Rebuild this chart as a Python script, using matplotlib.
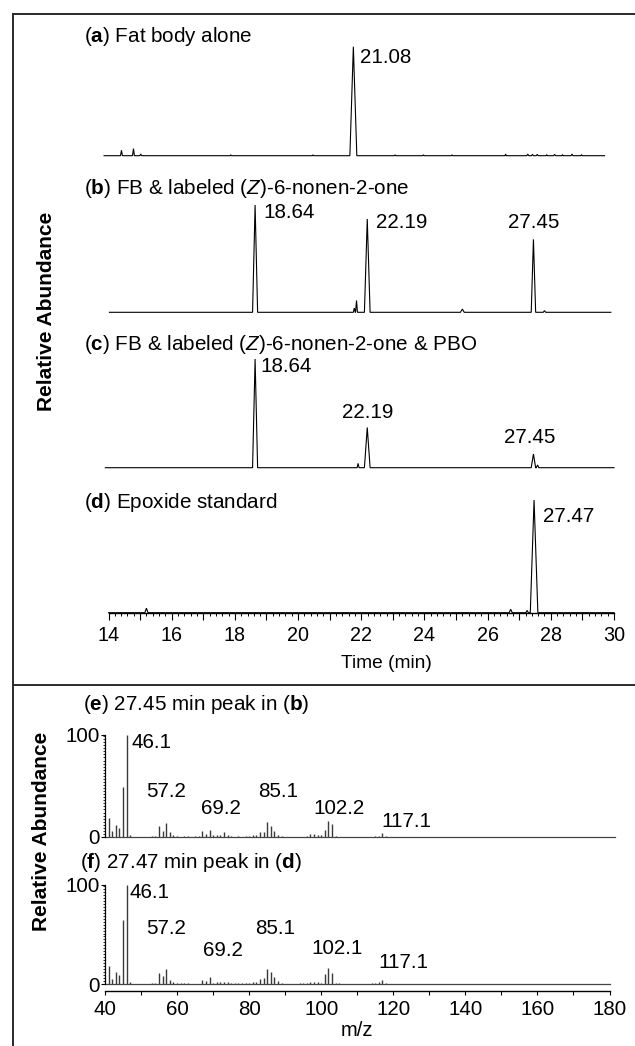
import matplotlib
matplotlib.use("Agg")
import matplotlib.pyplot as plt
from matplotlib.ticker import MultipleLocator, FuncFormatter, FixedLocator
from matplotlib.lines import Line2D

plt.rcParams['font.family'] = ['Liberation Sans', 'DejaVu Sans']
plt.rcParams['mathtext.fontset'] = 'custom'
plt.rcParams['mathtext.rm'] = 'Liberation Sans'
plt.rcParams['mathtext.bf'] = 'Liberation Sans:bold'
plt.rcParams['mathtext.it'] = 'Liberation Sans:italic'

# ---------------- data: chromatograms (retention time, min; relative abundance, %) ----------------
a_times = [13.74, 14.12, 14.35, 17.2, 19.8, 21.08, 22.4, 23.3, 24.2, 25.9, 26.6, 26.75, 26.9, 27.2, 27.45, 27.7, 28.0, 28.3]
a_heights = [5, 6.5, 1.5, 0.8, 0.8, 100, 0.8, 0.8, 0.8, 1.5, 1.5, 1.2, 1.2, 1.0, 1.2, 1.0, 1.5, 1.0]
a_widths = [0.03, 0.03, 0.03, 0.02, 0.02, 0.11, 0.02, 0.02, 0.02, 0.02, 0.03, 0.03, 0.03, 0.02, 0.03, 0.02, 0.03, 0.02]
a_range = [13.19, 29.03]
a_shift = 0.67  # trace (a) is drawn offset along the time axis in the original figure

b_times = [18.64, 21.78, 21.85, 22.19, 25.2, 27.45, 27.8]
b_heights = [100, 4, 11, 87, 3, 68, 1.5]
b_widths = [0.08, 0.03, 0.03, 0.09, 0.06, 0.07, 0.04]
b_range = [14.03, 29.9]

c_times = [18.64, 21.9, 22.19, 27.45, 27.58]
c_heights = [100, 4, 37, 12.6, 2.5]
c_widths = [0.08, 0.03, 0.09, 0.07, 0.04]
c_range = [13.9, 30.0]

d_times = [15.2, 26.73, 27.25, 27.47]
d_heights = [4, 3, 2, 100]
d_widths = [0.05, 0.05, 0.04, 0.12]
d_range = [14.0, 30.0]

time_ticks = [14, 16, 18, 20, 22, 24, 26, 28, 30]

# ---------------- data: mass spectra (m/z ; relative abundance, %) ----------------
e_mz = [41, 42, 43, 44, 45, 46, 47, 53, 54, 55, 56, 57, 58, 59, 60, 62, 63, 65, 66, 67, 68, 69, 70,
        71, 72, 73, 74, 75, 77, 79, 80, 81, 82, 83, 84, 85, 86, 87, 88, 89, 96, 97, 98, 99, 100,
        101, 102, 103, 104, 115, 116, 117, 118]
e_int = [18.6, 6.2, 12, 8.8, 49.5, 100, 1.6, 0.8, 0.8, 11, 6.2, 13.7, 4.6, 2.3, 0.8, 0.6, 0.6, 0.8, 1, 5.5, 2.5, 7.2, 2,
         2, 2, 4.9, 2, 0.8, 0.6, 1, 0.8, 1.5, 2, 4.9, 5, 14.3, 11, 6.2, 2, 0.8, 0.8, 3, 2.5, 2, 1.5,
         6.5, 15.6, 12.4, 0.8, 0.6, 1, 4.2, 0.8]
f_mz = [41, 42, 43, 44, 45, 46, 47, 53, 54, 55, 56, 57, 58, 59, 60, 61, 62, 63, 64, 67, 68, 69, 70,
        71, 72, 73, 74, 75, 76, 77, 78, 79, 80, 81, 82, 83, 84, 85, 86, 87, 88, 89, 94, 95, 96, 97,
        98, 99, 100, 101, 102, 103, 104, 105, 114, 115, 116, 117, 118]
f_int = [17.7, 5.4, 12, 9.4, 65, 100, 2.3, 0.8, 1, 11, 7.7, 15, 3.7, 2, 1, 0.6, 0.8, 0.8, 0.5, 4.4, 3.5, 6.7, 1.5,
         2, 2.5, 2.5, 2, 1, 0.6, 0.6, 0.8, 1, 1.5, 2, 2.5, 5.5, 6, 15, 12.5, 7, 3, 1, 0.8, 1, 1.5, 2.5,
         2, 2.5, 1.5, 10, 16, 10.8, 1.5, 0.6, 0.6, 1, 2.5, 4.5, 0.8]
e_labels = ["46.1", "57.2", "69.2", "85.1", "102.2", "117.1"]
f_labels = ["46.1", "57.2", "69.2", "85.1", "102.1", "117.1"]
mz_ticks = [40, 60, 80, 100, 120, 140, 160, 180]

chrom_titles = [r"($\mathbf{a}$) Fat body alone",
                r"($\mathbf{b}$) FB & labeled ($\mathit{Z}$)-6-nonen-2-one",
                r"($\mathbf{c}$) FB & labeled ($\mathit{Z}$)-6-nonen-2-one & PBO",
                r"($\mathbf{d}$) Epoxide standard"]
ms_titles = [r"($\mathbf{e}$) 27.45 min peak in ($\mathbf{b}$)",
             r"($\mathbf{f}$) 27.47 min peak in ($\mathbf{d}$)"]

# ---------------- figure / layout (pixel based) ----------------
W, H = 635, 1046
fig = plt.figure(figsize=(W / 100, H / 100), dpi=100)


def px_axes(x0, x1, ytop, ybot):
    return fig.add_axes([x0 / W, 1 - ybot / H, (x1 - x0) / W, (ybot - ytop) / H])


def ftext(x, y, s, **kw):
    return fig.text(x / W, 1 - y / H, s, **kw)


def peak_polyline(rng, times, heights, widths):
    xs, ys = [rng[0]], [0]
    for t, h, w in sorted(zip(times, heights, widths)):
        xs += [t - w, t, t + w]
        ys += [0, h, 0]
    xs.append(rng[1])
    ys.append(0)
    return xs, ys


LW = 0.8
FS_LAB = 14.9
FS_TICK = 14.2
FS_MSTICK = 14.8
CX0, CX1 = 108.5, 614

# chromatogram axes: (top px of 100 %, baseline px)
chrom_geom = [(46.7, 155.7), (205, 312.3), (359, 467.7), (500, 612.7)]
chrom_data = [(a_range, a_times, a_heights, a_widths),
              (b_range, b_times, b_heights, b_widths),
              (c_range, c_times, c_heights, c_widths),
              (d_range, d_times, d_heights, d_widths)]
chrom_axes = []
for i, ((yt, yb), (rng, ts, hs, ws)) in enumerate(zip(chrom_geom, chrom_data)):
    ax = px_axes(CX0, CX1, yt, yb)
    if i == 0:
        ax.set_xlim(14 - a_shift, 30 - a_shift)
    else:
        ax.set_xlim(14, 30)
    ax.set_ylim(0, 100)
    xs, ys = peak_polyline(rng, ts, hs, ws)
    ax.plot(xs, ys, color='black', lw=LW, clip_on=False, solid_joinstyle='miter')
    ax.patch.set_visible(False)
    chrom_axes.append(ax)

for ax in chrom_axes[:3]:
    ax.axis('off')

axd = chrom_axes[3]
for s in ['top', 'left', 'right']:
    axd.spines[s].set_visible(False)
axd.spines['bottom'].set_linewidth(1.0)
axd.set_yticks([])
axd.xaxis.set_major_locator(MultipleLocator(1))
axd.xaxis.set_minor_locator(MultipleLocator(0.2))
axd.xaxis.set_major_formatter(FuncFormatter(lambda v, p: f"{v:.0f}" if round(v) in time_ticks else ""))
axd.tick_params(axis='x', which='major', length=6.5 * 0.72, width=0.8, labelsize=FS_TICK, pad=5)
axd.tick_params(axis='x', which='minor', length=3.3 * 0.72, width=0.7)
axd.set_xlabel("Time (min)", fontsize=13.8)
axd.xaxis.set_label_coords((386 - CX0) / (CX1 - CX0), -(664 - 612.7) / (612.7 - 500))
axd.xaxis.label.set_va('center')

# chromatogram peak labels: (axis index, text, time, height, dx px, dy px (up +), ha)
chrom_peak_labels = [
    (0, "21.08", 21.08, 100, 7, -11, 'left'),
    (1, "18.64", 18.64, 100, 8, -7, 'left'),
    (1, "22.19", 22.19, 87, 9, -4, 'left'),
    (1, "27.45", 27.45, 68, 0, 17, 'center'),
    (2, "18.64", 18.64, 100, 5, -8, 'left'),
    (2, "22.19", 22.19, 37, 0, 15, 'center'),
    (2, "27.45", 27.45, 12.6, -4, 17, 'center'),
    (3, "27.47", 27.47, 100, 8.5, -16, 'left'),
]
for idx, s, t, h, dx, dy, ha in chrom_peak_labels:
    chrom_axes[idx].annotate(s, xy=(t, h), xytext=(dx, dy), textcoords='offset pixels',
                             ha=ha, va='center', fontsize=FS_LAB)

# panel titles
for s, y in zip(chrom_titles, [36, 189, 344, 502]):
    ftext(84, y, s, ha='left', va='center', fontsize=FS_LAB)

ftext(47, 311.5, "Relative Abundance", rotation=90, ha='center', va='center',
      fontsize=15, fontweight='bold')

# ---------------- mass spectra ----------------
MX0, MX1 = 105, 609.5
ms_geom = [(735, 837), (885, 984)]
ms_data = [(e_mz, e_int, e_labels, 181.5), (f_mz, f_int, f_labels, 180.2)]
# label placement: (m/z centre, % height) for labels 2..6; first label annotated next to base peak
ms_label_pos = [
    [(57.06, 44.4), (72.2, 28.1), (88.0, 44.4), (105.0, 28.1), (123.7, 15.5)],
    [(56.9, 56.3), (72.8, 34.3), (87.2, 56.3), (104.3, 36.0), (122.8, 21.5)],
]
ms_base_offset = [(5, -7), (3, -7)]
ms_axes = []
for k, ((yt, yb), (mz, inten, labs, xend)) in enumerate(zip(ms_geom, ms_data)):
    ax = px_axes(MX0, MX1, yt, yb)
    ax.set_xlim(40, 180)
    ax.set_ylim(0, 100)
    ax.patch.set_visible(False)
    ax.vlines(mz, 0, inten, colors='#3a3a3a', lw=1.0, clip_on=False)
    ax.plot([40, xend], [0, 0], color='#444444', lw=0.9, clip_on=False)
    for s in ['top', 'right', 'bottom']:
        ax.spines[s].set_visible(False)
    ax.spines['left'].set_linewidth(0.9)
    ax.yaxis.set_major_locator(FixedLocator([0, 100]))
    ax.yaxis.set_minor_locator(MultipleLocator(3))
    ax.tick_params(axis='y', which='major', length=3, width=0.8, labelsize=FS_MSTICK, pad=1)
    ax.tick_params(axis='y', which='minor', length=1.6, width=0.6)
    ax.set_xticks([])
    ax.annotate(labs[0], xy=(46, 100), xytext=ms_base_offset[k], textcoords='offset pixels',
                ha='left', va='center', fontsize=FS_LAB)
    for s, (xm, yp) in zip(labs[1:], ms_label_pos[k]):
        ax.text(xm, yp, s, ha='center', va='center', fontsize=FS_LAB)
    ms_axes.append(ax)

axf = ms_axes[1]
axf.spines['bottom'].set_visible(True)
axf.spines['bottom'].set_position(('outward', 5))
axf.spines['bottom'].set_linewidth(1.0)
axf.xaxis.set_major_locator(MultipleLocator(10))
axf.xaxis.set_major_formatter(FuncFormatter(lambda v, p: f"{v:.0f}" if round(v) in mz_ticks else ""))
axf.tick_params(axis='x', which='major', length=3, width=0.8, labelsize=FS_MSTICK, pad=3.5)
axf.set_xlabel("m/z", fontsize=14.5)
axf.xaxis.set_label_coords(0.5, -(1031 - 984) / (984 - 885))
axf.xaxis.label.set_va('center')

for s, (x, y) in zip(ms_titles, [(83, 705), (80, 863)]):
    ftext(x, y, s, ha='left', va='center', fontsize=FS_LAB)

ftext(42, 831, "Relative Abundance", rotation=90, ha='center', va='center',
      fontsize=15, fontweight='bold')

# ---------------- frame lines ----------------
frame_col = '#2a2a2a'
fig.add_artist(Line2D([13 / W, 1], [1 - 14 / H, 1 - 14 / H], color=frame_col, lw=1.4))
fig.add_artist(Line2D([13 / W, 13 / W], [0, 1 - 14 / H], color=frame_col, lw=1.4))
fig.add_artist(Line2D([13 / W, 1], [1 - 685 / H, 1 - 685 / H], color=frame_col, lw=1.4))

fig.savefig("out.png", dpi=100)
